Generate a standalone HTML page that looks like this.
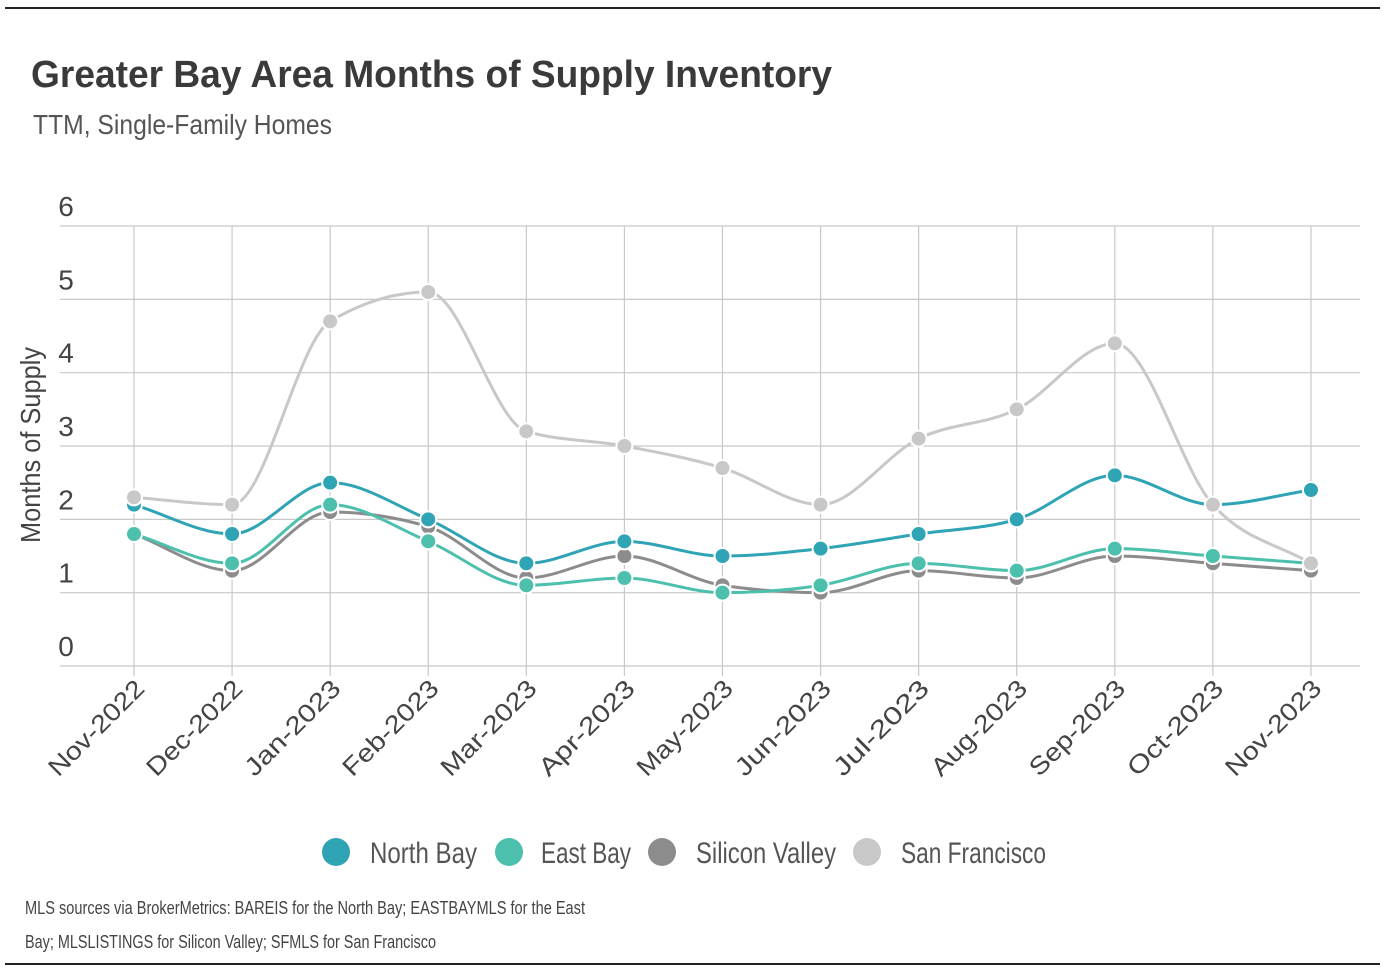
<!DOCTYPE html>
<html><head><meta charset="utf-8"><style>
html,body{margin:0;padding:0;background:#fff;}
svg{display:block;font-family:"Liberation Sans Narrow","Liberation Sans",sans-serif;}
</style></head><body>
<svg id="c" width="1394" height="980" viewBox="0 0 1394 980" xmlns="http://www.w3.org/2000/svg">
<line x1="5" y1="8" x2="1380" y2="8" stroke="#222" stroke-width="2"/>
<line x1="5" y1="964" x2="1380" y2="964" stroke="#222" stroke-width="2"/>
<text x="31" y="87" font-family="Liberation Sans, sans-serif" font-weight="bold" font-size="38" fill="#3a3a3a" textLength="801" lengthAdjust="spacingAndGlyphs">Greater Bay Area Months of Supply Inventory</text>
<text x="33" y="134" font-size="28" fill="#555" textLength="299" lengthAdjust="spacingAndGlyphs">TTM, Single-Family Homes</text>
<text transform="translate(40,445) rotate(-90)" text-anchor="middle" font-size="28" fill="#444" textLength="196" lengthAdjust="spacingAndGlyphs">Months of Supply</text>
<g id="grid"></g><g id="series"></g><g id="xlabels"></g>
<g font-size="30" fill="#555">
<circle cx="336" cy="852" r="14" fill="#2fa4b5"/>
<text x="370" y="863" textLength="107" lengthAdjust="spacingAndGlyphs">North Bay</text>
<circle cx="509" cy="852" r="14" fill="#4cc0ad"/>
<text x="541" y="863" textLength="90" lengthAdjust="spacingAndGlyphs">East Bay</text>
<circle cx="662" cy="852" r="14" fill="#8c8c8c"/>
<text x="696" y="863" textLength="140" lengthAdjust="spacingAndGlyphs">Silicon Valley</text>
<circle cx="867" cy="852" r="14" fill="#c8c8c8"/>
<text x="901" y="863" textLength="145" lengthAdjust="spacingAndGlyphs">San Francisco</text>
</g>
<text x="25" y="914" font-size="18" fill="#444" textLength="560" lengthAdjust="spacingAndGlyphs">MLS sources via BrokerMetrics: BAREIS for the North Bay; EASTBAYMLS for the East</text>
<text x="25" y="948" font-size="18" fill="#444" textLength="411" lengthAdjust="spacingAndGlyphs">Bay; MLSLISTINGS for Silicon Valley; SFMLS for San Francisco</text>
</svg>
<script>
const categories=["Nov-2022","Dec-2022","Jan-2023","Feb-2023","Mar-2023","Apr-2023","May-2023","Jun-2023","Jul-2023","Aug-2023","Sep-2023","Oct-2023","Nov-2023"];
const yTicks=[0,1,2,3,4,5,6];
const northBay=[2.2,1.8,2.5,2.0,1.4,1.7,1.5,1.6,1.8,2.0,2.6,2.2,2.4];
const eastBay=[1.8,1.4,2.2,1.7,1.1,1.2,1.0,1.1,1.4,1.3,1.6,1.5,1.4];
const siliconValley=[1.8,1.3,2.1,1.9,1.2,1.5,1.1,1.0,1.3,1.2,1.5,1.4,1.3];
const sanFrancisco=[2.3,2.2,4.7,5.1,3.2,3.0,2.7,2.2,3.1,3.5,4.4,2.2,1.4];
const NS="http://www.w3.org/2000/svg";
const x0=134,dx=98.08,yBase=666,yPer=73.33;
const X=i=>x0+i*dx, Y=v=>yBase-v*yPer;
function mk(t,a,p){const e=document.createElementNS(NS,t);for(const k in a)e.setAttribute(k,a[k]);p.appendChild(e);return e;}
const grid=document.getElementById('grid');
yTicks.forEach(t=>{
  const l=mk('line',{x1:60,x2:1360,y1:Y(t),y2:Y(t),stroke:'#c8c8c8','stroke-width':1.2},grid);
  
  
  const tx=mk('text',{x:66,y:Y(t)-10,'text-anchor':'middle','font-size':28,fill:'#444'},grid);
  tx.textContent=t;
  
  
});
const xl=document.getElementById('xlabels');
categories.forEach((c,i)=>{
  const l=mk('line',{x1:X(i),x2:X(i),y1:226,y2:676,stroke:'#c8c8c8','stroke-width':1.2},grid);
  
  
  const t=mk('text',{transform:`translate(${X(i)+12},${690}) rotate(-45)`,'text-anchor':'end','font-size':25,fill:'#444',textLength:124,lengthAdjust:'spacingAndGlyphs'},xl);
  t.textContent=c;
  
  
});
function path(vals){
  const p=vals.map((v,i)=>[X(i),Y(v)]);const n=p.length;
  const s=[];for(let i=0;i<n-1;i++)s.push((p[i+1][1]-p[i][1])/(p[i+1][0]-p[i][0]));
  const m=[];for(let i=0;i<n;i++){
    if(i===0)m.push(s[0]);else if(i===n-1)m.push(s[n-2]);
    else m.push(s[i-1]*s[i]<=0?0:(s[i-1]+s[i])/2*Math.min(1,2*Math.min(Math.abs(s[i-1]),Math.abs(s[i]))/Math.abs((s[i-1]+s[i])/2)));}
  let d=`M${p[0][0]},${p[0][1]}`;
  for(let i=0;i<n-1;i++){const h=(p[i+1][0]-p[i][0])/3;
    d+=` C${p[i][0]+h},${p[i][1]+m[i]*h} ${p[i+1][0]-h},${p[i+1][1]-m[i+1]*h} ${p[i+1][0]},${p[i+1][1]}`;}
  return d;}
const sg=document.getElementById('series');
[[siliconValley,'#8c8c8c','silicon-valley'],[eastBay,'#4cc0ad','east-bay'],[northBay,'#2fa4b5','north-bay'],[sanFrancisco,'#c8c8c8','san-francisco']].forEach(([vals,col,name])=>{
  const g=mk('g',{},sg);
  
  
  const ln=mk('path',{d:path(vals),fill:'none',stroke:col,'stroke-width':3},g);
  
  
  vals.forEach((v,i)=>{
    const c=mk('circle',{cx:X(i),cy:Y(v),r:8,fill:col,stroke:'#fff','stroke-width':2},g);
    
    
  });
});
</script>
</body></html>
